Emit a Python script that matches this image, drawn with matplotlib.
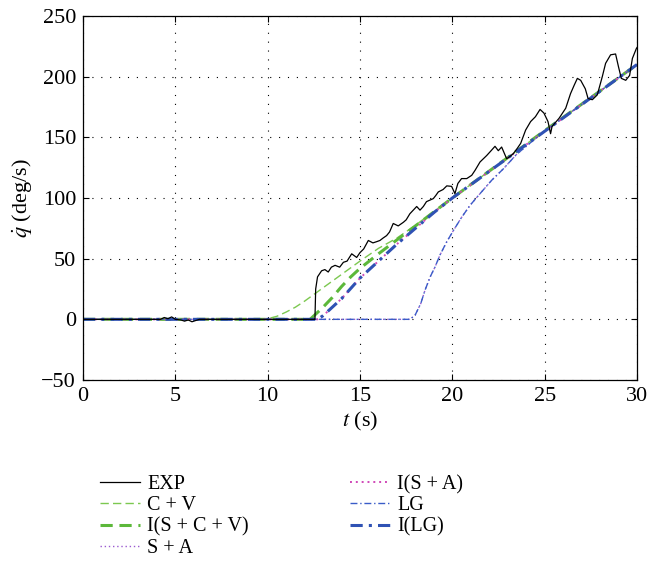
import matplotlib
matplotlib.use("Agg")
import matplotlib.pyplot as plt

plt.rcParams['font.family'] = ['Liberation Serif', 'DejaVu Serif']
plt.rcParams['mathtext.fontset'] = 'stix'

# ---- data ----
t_exp = [0, 4.2, 4.4, 4.6, 4.8, 5.0, 5.3, 5.5, 5.7, 5.9, 6.1, 6.3, 12.5, 12.56, 12.6, 12.7,
         12.92, 13.1, 13.28, 13.45, 13.65, 13.9, 14.1, 14.3, 14.55, 14.82, 15.0, 15.2, 15.45,
         15.7, 15.9, 16.08, 16.25, 16.44, 16.6, 16.8, 17.07, 17.35, 17.5, 17.7, 18.07, 18.25,
         18.43, 18.6, 18.97, 19.1, 19.24, 19.5, 19.7, 19.96, 20.14, 20.3, 20.5, 20.78, 21.05,
         21.23, 21.5, 21.86, 22.1, 22.31, 22.49, 22.67, 22.94, 23.1, 23.3, 23.52, 23.7, 23.97,
         24.24, 24.5, 24.75, 24.96, 25.18, 25.32, 25.4, 25.78, 26.14, 26.4, 26.6, 26.77, 26.95,
         27.2, 27.35, 27.58, 27.85, 28.12, 28.3, 28.57, 28.84, 29.0, 29.15, 29.39, 29.6, 29.75,
         29.96, 30]
v_exp = [0, 0, 1.5, 0.5, 2, 0, -0.5, -1.5, -0.5, -2, -1, 0, 0, 0, 25, 35,
         40, 41, 39, 43, 44.5, 43, 47, 48, 54, 51, 55, 58, 65,
         63, 64, 65, 67, 69, 72, 79, 77, 80, 82, 87, 93, 90,
         93, 97, 99.5, 102, 105, 107, 110, 109.6, 103.6, 112, 116, 116, 118.7,
         122.8, 129.7, 135, 139, 142.6, 139, 142, 132.4, 134, 136.5, 141, 145, 156,
         163, 167, 173, 170, 163, 153, 159, 165.7, 174, 186, 193, 198.6, 197,
         190, 182, 181, 185, 200, 211, 218, 218.7, 208, 198.6, 197, 201, 215,
         223, 224]

t_cv = [0, 9.8, 10.0, 10.5, 11.0, 11.5, 12.0, 12.5, 13.0, 14.0, 15.0, 16.0, 17.0, 18.0, 19.0, 20.0, 25.0, 30.0]
v_cv = [0, 0, 0.5, 2.5, 6, 10, 15, 20.5, 26, 37, 48, 58.5, 67, 77.5, 89, 100, 155.5, 210]

t_iscv = [0, 12.3, 13.0, 13.5, 14.0, 14.5, 15.0, 16.0, 17.0, 18.0, 19.0, 20.0, 25.0, 30.0]
v_iscv = [0, 0, 10, 18, 27, 35, 42, 54, 65.5, 77, 88.5, 100, 155.5, 210]

t_sa = [0, 17.7, 17.98, 18.29, 18.52, 18.8, 19.06, 19.33, 19.7, 20.05, 20.5, 20.96, 21.5, 22.13, 22.76, 23.48, 24.5, 25.0, 30.0]
v_sa = [0, 0, 3.3, 13, 24, 35, 43, 53, 64, 73, 84, 94, 103.6, 114.6, 124, 136, 149, 155, 210]

t_isa = [0, 12.7, 13.0, 14.0, 15.0, 16.0, 17.0, 18.0, 19.0, 20.0, 25.0, 30.0]
v_isa = [0, 0, 3, 17, 34, 48, 62, 75, 88, 100, 155, 210]

t_lg = t_sa
v_lg = v_sa
t_ilg = t_isa
v_ilg = v_isa

labels = ['EXP', 'C + V', 'I(S + C + V)', 'S + A', 'I(S + A)', 'LG', 'I(LG)']
x_ticks = [0, 5, 10, 15, 20, 25, 30]
y_ticks = [-50, 0, 50, 100, 150, 200, 250]

# ---- figure ----
fig = plt.figure(figsize=(6.63, 5.67), dpi=100)
ax = fig.add_axes([83/663, 1-380/567, (637-83)/663, (380-16)/567])

ax.plot(t_exp, v_exp, color='black', lw=0.9, label=labels[0], zorder=3)
ax.plot(t_cv, v_cv, color='#7cc850', lw=1.0, ls=(0, (6, 3)), label=labels[1])
ax.plot(t_iscv, v_iscv, color='#5cb83a', lw=2.2, ls=(0, (4, 2.2)), label=labels[2])
ax.plot(t_sa, v_sa, color='#9a5ad0', lw=1.0, ls=(0, (1, 2)), label=labels[3])
ax.plot(t_isa, v_isa, color='#d048b8', lw=1.4, ls=(0, (1, 2)), label=labels[4])
ax.plot(t_lg, v_lg, color='#3a5cc8', lw=1.0, ls=(0, (5, 2, 1, 2)), label=labels[5])
ax.plot(t_ilg, v_ilg, color='#2f52b4', lw=2.2, ls=(0, (4, 2, 1, 2)), label=labels[6])

ax.set_xlim(0, 30)
ax.set_ylim(-50, 250)
ax.set_xticks(x_ticks)
ax.set_yticks(y_ticks)
ax.set_yticklabels(['\u221250', '0', '50', '100', '150', '200', '250'])
ax.tick_params(direction='in', top=True, right=True, labelsize=16, length=4, width=0.8, pad=5)
ax.grid(True, color='black', ls=(0, (1, 7)), lw=0.8)
for s in ax.spines.values():
    s.set_linewidth(0.9)

ax.set_xlabel('$t$ (s)', fontsize=16, labelpad=3)
ax.set_ylabel(r'$\dot{q}$ (deg/s)', fontsize=16, labelpad=5)

leg = fig.legend(loc='upper left', bbox_to_anchor=(100/663, 1-475/567), ncol=2, frameon=False,
                 fontsize=14.5, handlelength=2.0, handletextpad=0.35, columnspacing=5.0,
                 labelspacing=0.1, borderpad=0, borderaxespad=0)

fig.savefig('out.png', dpi=100)
